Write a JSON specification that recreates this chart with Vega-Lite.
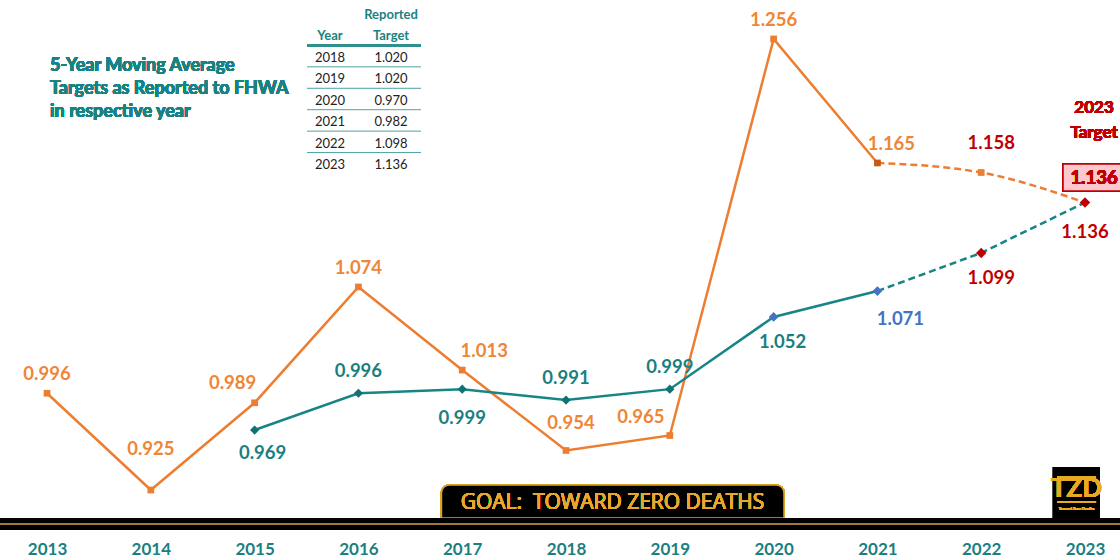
{
  "$schema": "https://vega.github.io/schema/vega-lite/v6.json",
  "width": 1120,
  "height": 520,
  "autosize": "none",
  "padding": {"left": 0, "top": 0, "right": 0, "bottom": 40},
  "background": "white",
  "config": {"view": {"stroke": null}, "font": "Lato"},
  "datasets": {
    "series": [
      {"Year": 2013, "Series": "Annual", "Value": 0.996},
      {"Year": 2014, "Series": "Annual", "Value": 0.925},
      {"Year": 2015, "Series": "Annual", "Value": 0.989},
      {"Year": 2016, "Series": "Annual", "Value": 1.074},
      {"Year": 2017, "Series": "Annual", "Value": 1.013},
      {"Year": 2018, "Series": "Annual", "Value": 0.954},
      {"Year": 2019, "Series": "Annual", "Value": 0.965},
      {"Year": 2020, "Series": "Annual", "Value": 1.256},
      {"Year": 2021, "Series": "Annual", "Value": 1.165},
      {"Year": 2022, "Series": "Annual", "Value": 1.158},
      {"Year": 2023, "Series": "Annual", "Value": 1.136},
      {"Year": 2015, "Series": "Avg", "Value": 0.969},
      {"Year": 2016, "Series": "Avg", "Value": 0.996},
      {"Year": 2017, "Series": "Avg", "Value": 0.999},
      {"Year": 2018, "Series": "Avg", "Value": 0.991},
      {"Year": 2019, "Series": "Avg", "Value": 0.999},
      {"Year": 2020, "Series": "Avg", "Value": 1.052},
      {"Year": 2021, "Series": "Avg", "Value": 1.071},
      {"Year": 2022, "Series": "Avg", "Value": 1.099},
      {"Year": 2023, "Series": "Avg", "Value": 1.136}
    ],
    "table": [
      {"Year": "2018", "Target": "1.020"},
      {"Year": "2019", "Target": "1.020"},
      {"Year": "2020", "Target": "0.970"},
      {"Year": "2021", "Target": "0.982"},
      {"Year": "2022", "Target": "1.098"},
      {"Year": "2023", "Target": "1.136"}
    ]
  },
  "layer": [
    {
      "data": {"name": "series"},
      "layer": [
        {
          "mark": {"type": "line", "color": "#ED7D31", "strokeWidth": 2.5},
          "transform": [{"filter": "datum.Series == 'Annual' && datum.Year <= 2021"}],
          "encoding": {
            "x": {"field": "Year", "type": "quantitative", "scale": {"domain": [2012.547, 2023.337], "nice": false, "zero": false},
              "axis": {"values": [2013, 2014, 2015, 2016, 2017, 2018, 2019, 2020, 2021, 2022, 2023], "format": "d", "title": null, "ticks": false, "domain": false, "grid": false, "labelFont": "Lato", "labelFontSize": 17, "labelFontWeight": "bold", "labelColor": "#1B7F7F", "labelPadding": 21, "labelFlush": false, "labelOverlap": false}},
            "y": {"field": "Value", "type": "quantitative", "scale": {"domain": [0.90298, 1.2846], "nice": false, "zero": false}, "axis": null}
          }
        },
        {
          "mark": {"type": "line", "color": "#ED7D31", "strokeWidth": 2.5, "strokeDash": [7, 4], "interpolate": "monotone"},
          "transform": [{"filter": "datum.Series == 'Annual' && datum.Year >= 2021"}],
          "encoding": {"x": {"field": "Year", "type": "quantitative"}, "y": {"field": "Value", "type": "quantitative", "axis": null}}
        },
        {
          "mark": {"type": "line", "color": "#178585", "strokeWidth": 2.5},
          "transform": [{"filter": "datum.Series == 'Avg' && datum.Year <= 2021"}],
          "encoding": {"x": {"field": "Year", "type": "quantitative"}, "y": {"field": "Value", "type": "quantitative", "axis": null}}
        },
        {
          "mark": {"type": "line", "color": "#178585", "strokeWidth": 2.5, "strokeDash": [7, 4]},
          "transform": [{"filter": "datum.Series == 'Avg' && datum.Year >= 2021"}],
          "encoding": {"x": {"field": "Year", "type": "quantitative"}, "y": {"field": "Value", "type": "quantitative", "axis": null}}
        },
        {
          "mark": {"type": "point", "shape": "square", "filled": true, "size": 45, "color": "#ED7D31", "opacity": 1},
          "transform": [{"filter": "datum.Series == 'Annual' && datum.Year != 2021 && datum.Year != 2023"}],
          "encoding": {"x": {"field": "Year", "type": "quantitative"}, "y": {"field": "Value", "type": "quantitative", "axis": null}}
        },
        {
          "mark": {"type": "point", "shape": "square", "filled": true, "size": 45, "color": "#C55A11", "opacity": 1},
          "transform": [{"filter": "datum.Series == 'Annual' && datum.Year == 2021"}],
          "encoding": {"x": {"field": "Year", "type": "quantitative"}, "y": {"field": "Value", "type": "quantitative", "axis": null}}
        },
        {
          "mark": {"type": "point", "shape": "diamond", "filled": true, "size": 85, "color": "#127272", "opacity": 1},
          "transform": [{"filter": "datum.Series == 'Avg' && datum.Year <= 2019"}],
          "encoding": {"x": {"field": "Year", "type": "quantitative"}, "y": {"field": "Value", "type": "quantitative", "axis": null}}
        },
        {
          "mark": {"type": "point", "shape": "diamond", "filled": true, "size": 95, "color": "#4472C4", "opacity": 1},
          "transform": [{"filter": "datum.Series == 'Avg' && (datum.Year == 2020 || datum.Year == 2021)"}],
          "encoding": {"x": {"field": "Year", "type": "quantitative"}, "y": {"field": "Value", "type": "quantitative", "axis": null}}
        },
        {
          "mark": {"type": "point", "shape": "diamond", "filled": true, "size": 110, "color": "#C00000", "opacity": 1},
          "transform": [{"filter": "datum.Series == 'Avg' && datum.Year >= 2022"}],
          "encoding": {"x": {"field": "Year", "type": "quantitative"}, "y": {"field": "Value", "type": "quantitative", "axis": null}}
        },
        {
          "mark": {"type": "text", "fontWeight": "bold", "fontSize": 18.5, "color": "#EF8635", "dy": -19},
          "transform": [{"filter": "datum.Series == 'Annual' && indexof([2013, 2016, 2020], datum.Year) >= 0"}],
          "encoding": {"x": {"field": "Year", "type": "quantitative"}, "y": {"field": "Value", "type": "quantitative", "axis": null}, "text": {"field": "Value", "type": "quantitative", "format": ".3f"}}
        },
        {
          "mark": {"type": "text", "fontWeight": "bold", "fontSize": 18.5, "color": "#EF8635", "dy": -41},
          "transform": [{"filter": "datum.Series == 'Annual' && datum.Year == 2014"}],
          "encoding": {"x": {"field": "Year", "type": "quantitative"}, "y": {"field": "Value", "type": "quantitative", "axis": null}, "text": {"field": "Value", "type": "quantitative", "format": ".3f"}}
        },
        {
          "mark": {"type": "text", "fontWeight": "bold", "fontSize": 18.5, "color": "#EF8635", "dx": -22, "dy": -20},
          "transform": [{"filter": "datum.Series == 'Annual' && datum.Year == 2015"}],
          "encoding": {"x": {"field": "Year", "type": "quantitative"}, "y": {"field": "Value", "type": "quantitative", "axis": null}, "text": {"field": "Value", "type": "quantitative", "format": ".3f"}}
        },
        {
          "mark": {"type": "text", "fontWeight": "bold", "fontSize": 18.5, "color": "#EF8635", "dx": 22, "dy": -19},
          "transform": [{"filter": "datum.Series == 'Annual' && datum.Year == 2017"}],
          "encoding": {"x": {"field": "Year", "type": "quantitative"}, "y": {"field": "Value", "type": "quantitative", "axis": null}, "text": {"field": "Value", "type": "quantitative", "format": ".3f"}}
        },
        {
          "mark": {"type": "text", "fontWeight": "bold", "fontSize": 18.5, "color": "#EF8635", "dx": 5, "dy": -27},
          "transform": [{"filter": "datum.Series == 'Annual' && datum.Year == 2018"}],
          "encoding": {"x": {"field": "Year", "type": "quantitative"}, "y": {"field": "Value", "type": "quantitative", "axis": null}, "text": {"field": "Value", "type": "quantitative", "format": ".3f"}}
        },
        {
          "mark": {"type": "text", "fontWeight": "bold", "fontSize": 18.5, "color": "#EF8635", "dx": -29, "dy": -18},
          "transform": [{"filter": "datum.Series == 'Annual' && datum.Year == 2019"}],
          "encoding": {"x": {"field": "Year", "type": "quantitative"}, "y": {"field": "Value", "type": "quantitative", "axis": null}, "text": {"field": "Value", "type": "quantitative", "format": ".3f"}}
        },
        {
          "mark": {"type": "text", "fontWeight": "bold", "fontSize": 18.5, "color": "#EF8635", "dx": 14, "dy": -19},
          "transform": [{"filter": "datum.Series == 'Annual' && datum.Year == 2021"}],
          "encoding": {"x": {"field": "Year", "type": "quantitative"}, "y": {"field": "Value", "type": "quantitative", "axis": null}, "text": {"field": "Value", "type": "quantitative", "format": ".3f"}}
        },
        {
          "mark": {"type": "text", "fontWeight": "bold", "fontSize": 18.5, "color": "#C00000", "dx": 10, "dy": -30},
          "transform": [{"filter": "datum.Series == 'Annual' && datum.Year == 2022"}],
          "encoding": {"x": {"field": "Year", "type": "quantitative"}, "y": {"field": "Value", "type": "quantitative", "axis": null}, "text": {"field": "Value", "type": "quantitative", "format": ".3f"}}
        },
        {
          "mark": {"type": "text", "fontWeight": "bold", "fontSize": 18.5, "color": "#1B7F7F", "dy": -22},
          "transform": [{"filter": "datum.Series == 'Avg' && indexof([2016, 2018, 2019], datum.Year) >= 0"}],
          "encoding": {"x": {"field": "Year", "type": "quantitative"}, "y": {"field": "Value", "type": "quantitative", "axis": null}, "text": {"field": "Value", "type": "quantitative", "format": ".3f"}}
        },
        {
          "mark": {"type": "text", "fontWeight": "bold", "fontSize": 18.5, "color": "#1B7F7F", "dx": 8, "dy": 23},
          "transform": [{"filter": "datum.Series == 'Avg' && datum.Year == 2015"}],
          "encoding": {"x": {"field": "Year", "type": "quantitative"}, "y": {"field": "Value", "type": "quantitative", "axis": null}, "text": {"field": "Value", "type": "quantitative", "format": ".3f"}}
        },
        {
          "mark": {"type": "text", "fontWeight": "bold", "fontSize": 18.5, "color": "#1B7F7F", "dy": 29},
          "transform": [{"filter": "datum.Series == 'Avg' && datum.Year == 2017"}],
          "encoding": {"x": {"field": "Year", "type": "quantitative"}, "y": {"field": "Value", "type": "quantitative", "axis": null}, "text": {"field": "Value", "type": "quantitative", "format": ".3f"}}
        },
        {
          "mark": {"type": "text", "fontWeight": "bold", "fontSize": 18.5, "color": "#1B7F7F", "dx": 9, "dy": 25},
          "transform": [{"filter": "datum.Series == 'Avg' && datum.Year == 2020"}],
          "encoding": {"x": {"field": "Year", "type": "quantitative"}, "y": {"field": "Value", "type": "quantitative", "axis": null}, "text": {"field": "Value", "type": "quantitative", "format": ".3f"}}
        },
        {
          "mark": {"type": "text", "fontWeight": "bold", "fontSize": 18.5, "color": "#4472C4", "dx": 23, "dy": 28},
          "transform": [{"filter": "datum.Series == 'Avg' && datum.Year == 2021"}],
          "encoding": {"x": {"field": "Year", "type": "quantitative"}, "y": {"field": "Value", "type": "quantitative", "axis": null}, "text": {"field": "Value", "type": "quantitative", "format": ".3f"}}
        },
        {
          "mark": {"type": "text", "fontWeight": "bold", "fontSize": 18.5, "color": "#C00000", "dx": 10, "dy": 25},
          "transform": [{"filter": "datum.Series == 'Avg' && datum.Year == 2022"}],
          "encoding": {"x": {"field": "Year", "type": "quantitative"}, "y": {"field": "Value", "type": "quantitative", "axis": null}, "text": {"field": "Value", "type": "quantitative", "format": ".3f"}}
        },
        {
          "mark": {"type": "text", "fontWeight": "bold", "fontSize": 18.5, "color": "#C00000", "dy": 30},
          "transform": [{"filter": "datum.Series == 'Avg' && datum.Year == 2023"}],
          "encoding": {"x": {"field": "Year", "type": "quantitative"}, "y": {"field": "Value", "type": "quantitative", "axis": null}, "text": {"field": "Value", "type": "quantitative", "format": ".3f"}}
        },
        {
          "mark": {"type": "rect", "fill": "#FFC7CE", "stroke": "#C00000", "strokeWidth": 1.5},
          "encoding": {"x": {"datum": 2022.788}, "x2": {"datum": 2023.4}, "y": {"datum": 1.16427, "axis": null}, "y2": {"datum": 1.14445}}
        },
        {
          "mark": {"type": "text", "fontWeight": "bold", "fontSize": 18.5, "color": "#C00000"},
          "encoding": {"x": {"datum": 2023.087}, "y": {"datum": 1.15399, "axis": null}, "text": {"value": "1.136"}}
        },
        {
          "mark": {"type": "text", "fontWeight": "bold", "fontSize": 17, "color": "#C00000", "lineHeight": 25},
          "encoding": {"x": {"datum": 2023.087}, "y": {"datum": 1.20537, "axis": null}, "text": {"value": ["2023", "Target"]}}
        },
        {
          "mark": {"type": "text", "fontWeight": "bold", "fontSize": 18, "color": "#1A8282", "align": "left", "lineHeight": 23},
          "encoding": {"x": {"datum": 2013.029}, "y": {"datum": 1.2362, "axis": null}, "text": {"value": ["5-Year Moving Average", "Targets as Reported to FHWA", "in respective year"]}}
        },
        {
          "mark": {"type": "rect", "fill": "black", "stroke": "#D9A520", "strokeWidth": 1.5, "cornerRadiusTopLeft": 8, "cornerRadiusTopRight": 8},
          "encoding": {"x": {"datum": 2016.8}, "x2": {"datum": 2020.1}, "y": {"datum": 0.92867, "axis": null}, "y2": {"datum": 0.90445}}
        },
        {
          "mark": {"type": "text", "fontSize": 21, "color": "#E6A92E", "font": "Open Sans"},
          "encoding": {"x": {"datum": 2018.448}, "y": {"datum": 0.91546, "axis": null}, "text": {"value": "GOAL:\u00a0 TOWARD ZERO DEATHS"}}
        },
        {
          "mark": {"type": "rect", "fill": "black"},
          "encoding": {"x": {"datum": 2022.691}, "x2": {"datum": 2023.144}, "y": {"datum": 0.94188, "axis": null}, "y2": {"datum": 0.90445}}
        },
        {
          "mark": {"type": "text", "fontWeight": "bold", "fontSize": 26, "color": "#E8A923"},
          "encoding": {"x": {"datum": 2022.918}, "y": {"datum": 0.9255, "axis": null}, "text": {"value": "TZD"}}
        },
        {
          "mark": {"type": "rule", "color": "#E8A923", "strokeWidth": 3},
          "encoding": {"x": {"datum": 2022.73}, "x2": {"datum": 2023.106}, "y": {"datum": 0.93381, "axis": null}}
        },
        {
          "mark": {"type": "rule", "color": "#E8A923", "strokeWidth": 2},
          "encoding": {"x": {"datum": 2022.73}, "x2": {"datum": 2023.106}, "y": {"datum": 0.91619, "axis": null}}
        },
        {
          "mark": {"type": "text", "fontSize": 4, "color": "#E8A923"},
          "encoding": {"x": {"datum": 2022.918}, "y": {"datum": 0.9108, "axis": null}, "text": {"value": "Toward Zero Deaths"}}
        },
        {
          "mark": {"type": "rule", "color": "black", "strokeWidth": 12},
          "encoding": {"y": {"datum": 0.90005, "axis": null}}
        },
        {
          "mark": {"type": "rule", "color": "#9E7B3A", "strokeWidth": 1.5},
          "encoding": {"y": {"datum": 0.90005, "axis": null}}
        }
      ]
    },
    {
      "data": {"name": "table"},
      "layer": [
        {
          "transform": [{"filter": "datum.Year != '2023'"}],
          "mark": {"type": "rule", "color": "#4AA3A3", "strokeWidth": 1, "xOffset": -23, "x2Offset": 30, "yOffset": 9},
          "encoding": {
            "x": {"datum": "Year", "type": "nominal", "scale": {"type": "point", "domain": ["Year", "Target"], "range": [330, 391], "padding": 0}, "axis": null},
            "x2": {"datum": "Target"},
            "y": {"field": "Year", "type": "ordinal", "scale": {"type": "point", "domain": ["h1", "h2", "2018", "2019", "2020", "2021", "2022", "2023"], "range": [15, 165], "padding": 0}, "axis": null}
          }
        },
        {
          "mark": {"type": "rule", "color": "#2E8E8E", "strokeWidth": 2, "xOffset": -23, "x2Offset": 30, "yOffset": 9},
          "encoding": {
            "x": {"datum": "Year", "type": "nominal", "axis": null},
            "x2": {"datum": "Target"},
            "y": {"datum": "h2", "type": "ordinal", "axis": null}
          }
        },
        {
          "data": {"values": [{"r": "h1", "c": "Target", "t": "Reported"}, {"r": "h2", "c": "Year", "t": "Year"}, {"r": "h2", "c": "Target", "t": "Target"}]},
          "mark": {"type": "text", "fontSize": 13, "fontWeight": "bold", "color": "#1A8282"},
          "encoding": {
            "x": {"field": "c", "type": "nominal", "axis": null},
            "y": {"field": "r", "type": "ordinal", "axis": null},
            "text": {"field": "t", "type": "nominal"}
          }
        },
        {
          "transform": [{"fold": ["Year", "Target"], "as": ["col", "val"]}],
          "mark": {"type": "text", "fontSize": 13, "color": "#222222"},
          "encoding": {
            "x": {"field": "col", "type": "nominal", "axis": null},
            "y": {"field": "Year", "type": "ordinal", "axis": null},
            "text": {"field": "val", "type": "nominal"}
          }
        }
      ]
    }
  ],
  "resolve": {"scale": {"x": "independent", "y": "independent"}}
}
